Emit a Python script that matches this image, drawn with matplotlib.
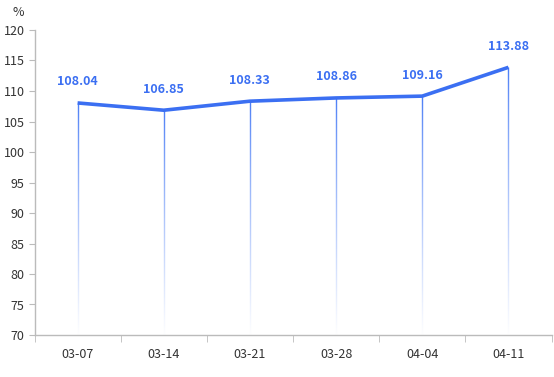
import numpy as np
import matplotlib
matplotlib.use("Agg")
import matplotlib.pyplot as plt

plt.rcParams['font.family'] = ['Noto Sans CJK SC', 'DejaVu Sans']

dates = ['03-07', '03-14', '03-21', '03-28', '04-04', '04-11']
values = [108.04, 106.85, 108.33, 108.86, 109.16, 113.88]
y_ticks = [70, 75, 80, 85, 90, 95, 100, 105, 110, 115, 120]

blue = '#3b6ff2'
drop_blue = '#4a7df6'
axis_gray = '#bbbbbb'
text_gray = '#333333'

fig = plt.figure(figsize=(5.54, 3.77), dpi=100)
ax = fig.add_axes([34.5 / 554, 42 / 377, 517 / 554, 305 / 377])

x = np.arange(len(dates))
ymin, ymax = y_ticks[0], y_ticks[-1]
ax.set_xlim(-0.5, len(dates) - 0.5)
ax.set_ylim(ymin, ymax)

# drop lines, then a white fade laid over each so they vanish toward the axis
ax.vlines(x, ymin, values, color=drop_blue, lw=1.0, zorder=2)
px = len(dates) / 517.0
fade = np.ones((256, 1, 4))
fade[:, 0, 3] = np.linspace(0.0, 1.0, 256) ** 0.8   # top row transparent, bottom white
for xi, v in zip(x, values):
    ax.imshow(fade, extent=[xi - 3 * px, xi + 3 * px, ymin, v], aspect='auto',
              origin='upper', interpolation='bilinear', zorder=2.2)

ax.plot(x, values, color=blue, lw=2.6, zorder=3, solid_capstyle='butt')

for xi, v in zip(x, values):
    ax.annotate(f'{v:.2f}', (xi, v), xytext=(0, 10.5), textcoords='offset points',
                ha='center', va='bottom', color=blue, fontsize=9, fontweight='bold')

ax.set_yticks(y_ticks)
ax.set_xticks(x)
ax.set_xticklabels(dates)
ax.set_xticks(np.arange(len(dates) + 1) - 0.5, minor=True)

for s in ['top', 'right']:
    ax.spines[s].set_visible(False)
for s in ['left', 'bottom']:
    ax.spines[s].set_color(axis_gray)
    ax.spines[s].set_linewidth(1.0)
    ax.spines[s].set_zorder(5)

ax.tick_params(axis='y', colors=axis_gray, labelcolor=text_gray, labelsize=9,
               length=4, direction='out', pad=3)
ax.tick_params(axis='x', which='major', length=0, labelcolor=text_gray,
               labelsize=9, pad=9)
ax.tick_params(axis='x', which='minor', length=5, color=axis_gray, direction='out')

ax.text(-0.02, 1.035, '%', transform=ax.transAxes, ha='right', va='bottom',
        color=text_gray, fontsize=9)

fig.savefig('out.png', dpi=100)
